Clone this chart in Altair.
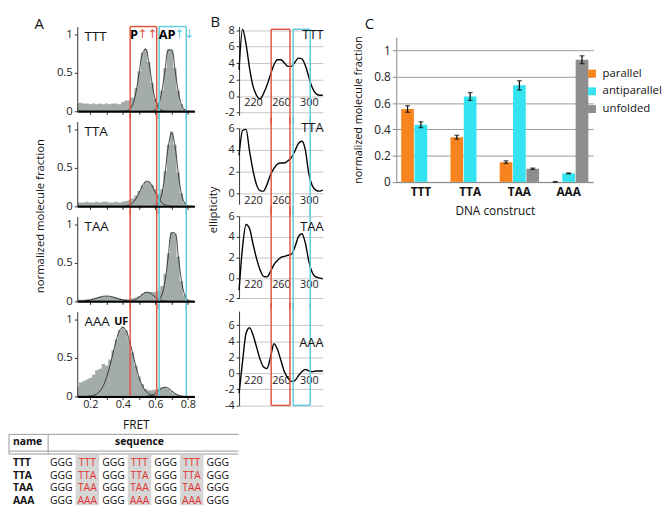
import altair as alt
import pandas as pd

FONT = "Open Sans"

# ------------------------------------------------------------------ data
CONSTRUCTS = ["TTT", "TTA", "TAA", "AAA"]

# Panel A : smFRET histograms (normalized molecule fraction per FRET bin)
FRET_BINS = [0.12, 0.14, 0.16, 0.18, 0.20, 0.22, 0.24, 0.26, 0.28, 0.30,
             0.32, 0.34, 0.36, 0.38, 0.40, 0.42, 0.44, 0.46, 0.48, 0.50,
             0.52, 0.54, 0.56, 0.58, 0.60, 0.62, 0.64, 0.66, 0.68, 0.70,
             0.72, 0.74, 0.76, 0.78, 0.80, 0.82, 0.84]

HIST_TTT = [0.10, 0.11, 0.10, 0.10, 0.09, 0.10, 0.09, 0.10, 0.09, 0.10,
            0.09, 0.10, 0.10, 0.09, 0.12, 0.14, 0.14, 0.18, 0.30, 0.52,
            0.76, 0.81, 0.64, 0.37, 0.16, 0.12, 0.27, 0.56, 0.81, 0.80,
            0.56, 0.27, 0.09, 0.03, 0.01, 0.00, 0.00]
FIT_TTT_P = [0, 0, 0, 0, 0, 0, 0, 0, 0, 0,
             0, 0, 0, 0, 0, 0.004, 0.021, 0.083, 0.239, 0.497,
             0.748, 0.812, 0.635, 0.359, 0.146, 0.043, 0.009, 0.001, 0, 0,
             0, 0, 0, 0, 0, 0, 0]
FIT_TTT_AP = [0, 0, 0, 0, 0, 0, 0, 0, 0, 0,
              0, 0, 0, 0, 0, 0, 0, 0, 0, 0,
              0, 0, 0, 0.003, 0.020, 0.087, 0.263, 0.549, 0.793, 0.793,
              0.549, 0.263, 0.087, 0.020, 0.003, 0, 0]

HIST_TTA = [0.05, 0.05, 0.05, 0.06, 0.05, 0.05, 0.06, 0.05, 0.06, 0.06,
            0.05, 0.05, 0.06, 0.05, 0.06, 0.07, 0.08, 0.10, 0.14, 0.20,
            0.27, 0.32, 0.32, 0.28, 0.22, 0.16, 0.22, 0.46, 0.80, 0.97,
            0.80, 0.44, 0.17, 0.05, 0.01, 0.00, 0.00]
FIT_TTA_P = [0, 0, 0, 0, 0, 0, 0, 0, 0, 0,
             0, 0, 0, 0, 0.001, 0.005, 0.017, 0.045, 0.098, 0.178,
             0.264, 0.322, 0.322, 0.264, 0.178, 0.098, 0.045, 0.017, 0.005, 0.001,
             0, 0, 0, 0, 0, 0, 0]
FIT_TTA_AP = [0, 0, 0, 0, 0, 0, 0, 0, 0, 0,
              0, 0, 0, 0, 0, 0, 0, 0, 0, 0,
              0, 0, 0, 0, 0.007, 0.042, 0.166, 0.440, 0.790, 0.960,
              0.790, 0.440, 0.166, 0.042, 0.007, 0, 0]

HIST_TAA = [0.02, 0.02, 0.02, 0.03, 0.03, 0.04, 0.05, 0.06, 0.06, 0.07,
            0.06, 0.06, 0.05, 0.04, 0.03, 0.03, 0.03, 0.04, 0.05, 0.07,
            0.10, 0.12, 0.12, 0.12, 0.12, 0.14, 0.20, 0.36, 0.62, 0.90,
            0.88, 0.58, 0.26, 0.08, 0.02, 0.00, 0.00]
FIT_TAA_UF = [0.001, 0.002, 0.005, 0.009, 0.017, 0.029, 0.042, 0.056, 0.066, 0.070,
              0.066, 0.056, 0.042, 0.029, 0.017, 0.009, 0.005, 0.002, 0.001, 0,
              0, 0, 0, 0, 0, 0, 0, 0, 0, 0,
              0, 0, 0, 0, 0, 0, 0]
FIT_TAA_P = [0, 0, 0, 0, 0, 0, 0, 0, 0, 0,
             0, 0, 0, 0, 0, 0, 0.003, 0.010, 0.026, 0.055,
             0.091, 0.116, 0.116, 0.091, 0.055, 0.026, 0.010, 0.003, 0, 0,
             0, 0, 0, 0, 0, 0, 0]
FIT_TAA_AP = [0, 0, 0, 0, 0, 0, 0, 0, 0, 0,
              0, 0, 0, 0, 0, 0, 0, 0, 0, 0,
              0, 0, 0, 0, 0.003, 0.018, 0.085, 0.274, 0.599, 0.886,
              0.886, 0.599, 0.274, 0.085, 0.018, 0.003, 0]

HIST_AAA = [0.12, 0.18, 0.20, 0.22, 0.24, 0.28, 0.34, 0.36, 0.42, 0.40,
            0.48, 0.60, 0.74, 0.86, 0.90, 0.86, 0.74, 0.57, 0.40, 0.26,
            0.16, 0.10, 0.08, 0.08, 0.09, 0.10, 0.12, 0.12, 0.10, 0.07,
            0.04, 0.02, 0.01, 0.00, 0.00, 0.00, 0.00]
FIT_AAA_UF = [0, 0, 0.001, 0.002, 0.005, 0.013, 0.032, 0.070, 0.138, 0.245,
              0.392, 0.564, 0.731, 0.854, 0.900, 0.854, 0.731, 0.564, 0.392, 0.245,
              0.138, 0.070, 0.032, 0.013, 0.005, 0.002, 0.001, 0, 0, 0,
              0, 0, 0, 0, 0, 0, 0]
FIT_AAA_AP = [0, 0, 0, 0, 0, 0, 0, 0, 0, 0,
              0, 0, 0, 0, 0, 0, 0, 0, 0, 0,
              0, 0.001, 0.005, 0.016, 0.039, 0.073, 0.106, 0.120, 0.106, 0.073,
              0.039, 0.016, 0.005, 0.001, 0, 0, 0]

HISTS = [HIST_TTT, HIST_TTA, HIST_TAA, HIST_AAA]
FITS = [
    [("P", FIT_TTT_P), ("AP", FIT_TTT_AP)],
    [("P", FIT_TTA_P), ("AP", FIT_TTA_AP)],
    [("UF", FIT_TAA_UF), ("P", FIT_TAA_P), ("AP", FIT_TAA_AP)],
    [("UF", FIT_AAA_UF), ("AP", FIT_AAA_AP)],
]
BOX_P_FRET = [0.445, 0.608]
BOX_AP_FRET = [0.623, 0.790]

# Panel B : CD spectra (ellipticity vs wavelength, nm)
WAVELENGTH = [200, 205, 210, 215, 220, 225, 230, 235, 240, 245, 250, 255, 260,
              265, 270, 275, 280, 285, 290, 295, 300, 305, 310, 315, 320]
CD_TTT = [3.2, 8.1, 6.3, 3.4, 1.2, 0.1, -0.35, 0.3, 1.3, 2.6, 3.8, 4.4, 4.4,
          4.0, 3.6, 3.6, 4.1, 4.6, 4.5, 3.7, 2.3, 1.0, 0.3, 0.1, 0.1]
CD_TTA = [3.5, 5.8, 5.9, 3.9, 2.1, 0.8, 0.25, 0.2, 0.8, 1.7, 2.3, 2.7, 2.8,
          2.8, 3.0, 3.3, 3.9, 4.6, 4.8, 4.0, 1.8, 0.7, 0.3, 0.2, 0.3]
CD_TAA = [-1.2, 3.0, 5.2, 4.8, 3.3, 1.9, 0.8, 0.15, 0.1, 0.6, 1.3, 1.7, 2.0,
          2.1, 2.2, 2.3, 3.0, 4.0, 4.3, 3.4, 1.6, 0.5, 0.1, 0.0, -0.1]
CD_AAA = [-2.5, 1.5, 5.0, 5.7, 4.8, 3.3, 1.8, 0.8, 0.6, 2.0, 3.7, 3.0, 1.6,
          0.2, -0.6, -1.0, -0.9, -0.3, 0.2, 0.5, 0.3, 0.2, 0.3, 0.3, 0.3]
CDS = [CD_TTT, CD_TTA, CD_TAA, CD_AAA]
BOX_P_NM = [246, 273]
BOX_AP_NM = [277.5, 302]

# Panel C : normalized fractions
FOLD_TYPES = ["parallel", "antiparallel", "unfolded"]
PARALLEL = [0.555, 0.34, 0.15, 0.0]
PARALLEL_ERR = [0.025, 0.015, 0.01, 0.002]
ANTIPARALLEL = [0.435, 0.65, 0.735, 0.065]
ANTIPARALLEL_ERR = [0.022, 0.03, 0.035, 0.003]
UNFOLDED = [0.0, 0.0, 0.10, 0.93]
UNFOLDED_ERR = [0.0, 0.0, 0.005, 0.03]

# Sequence table
TABLE_NAMES = ["TTT", "TTA", "TAA", "AAA"]
TABLE_SEQS = ["GGG TTT GGG TTT GGG TTT GGG",
              "GGG TTA GGG TTA GGG TTA GGG",
              "GGG TAA GGG TAA GGG TAA GGG",
              "GGG AAA GGG AAA GGG AAA GGG"]

# ------------------------------------------------------------------ styles
HIST_COLOR = "#a3aca8"
RED = "#e2553f"
CYAN = "#62c8dc"
BAR_COLORS = ["#f7841e", "#33e4f0", "#8e8e8e"]
SEQ_RED = "#e2312f"


def box_vertical(p, ap, lo, hi):
    return pd.DataFrame({"x": [p[0], p[1], ap[0], ap[1]],
                         "y": [lo] * 4, "y2": [hi] * 4,
                         "c": [RED, RED, CYAN, CYAN]})


def box_horizontal(p, ap, y):
    return pd.DataFrame({"x": [p[0], ap[0]], "x2": [p[1], ap[1]],
                         "y": [y, y], "c": [RED, CYAN]})


# ------------------------------------------------------------------ panel A
A_W, A_H = 119, 86
A_YTOP = 1.1
A_EXT = 0.1


def a_panel(i):
    first, last = i == 0, i == 3
    xs = alt.Scale(domain=[0.12, 0.84], nice=False, zero=False)
    ys = alt.Scale(domain=[0, A_YTOP], nice=False, zero=False)
    xaxis = alt.Axis(values=[0.2, 0.3, 0.4, 0.5, 0.6, 0.7, 0.8], labels=last,
                     labelExpr="round(datum.value * 10) % 2 == 0 ? format(datum.value, '.1f') : ''",
                     title="FRET" if last else None, domainWidth=2, domainColor="black",
                     tickColor="#222", tickSize=3, grid=False, labelFontSize=11,
                     titleFontSize=12, titlePadding=11, labelPadding=-1, zindex=1)
    yaxis = alt.Axis(values=[0, 0.5, 1], format="~g", title=None, grid=False,
                     tickSize=3, labelFontSize=11.5, labelPadding=2,
                     domainColor="#333", tickColor="#333", zindex=1)

    def X(f):
        return alt.X(f, scale=xs, axis=xaxis)

    def Y(f):
        return alt.Y(f, scale=ys, axis=yaxis)

    hist = alt.Chart(pd.DataFrame({"fret": FRET_BINS, "frac": HISTS[i]})).mark_area(
        interpolate="step", color=HIST_COLOR).encode(x=X("fret:Q"), y=Y("frac:Q"))
    rows = []
    for comp, vals in FITS[i]:
        for f, v in zip(FRET_BINS, vals):
            rows.append({"fret": f, "frac": v, "comp": comp})
    fit = alt.Chart(pd.DataFrame(rows)).mark_line(
        interpolate="catmull-rom", color="#1a1a1a", strokeWidth=0.8, clip=True).encode(
        x=X("fret:Q"), y=Y("frac:Q"), detail="comp:N")
    lo = 0 if last else -A_EXT
    hi = A_YTOP if first else A_YTOP + A_EXT
    vr = alt.Chart(box_vertical(BOX_P_FRET, BOX_AP_FRET, lo, hi)).mark_rule(
        strokeWidth=1.5, clip=False).encode(
        x=X("x:Q"), y=Y("y:Q"), y2="y2:Q", color=alt.Color("c:N", scale=None))
    layers = [hist, fit, vr]
    if first:
        hr = alt.Chart(box_horizontal(BOX_P_FRET, BOX_AP_FRET, A_YTOP)).mark_rule(
            strokeWidth=1.5).encode(
            x=X("x:Q"), x2="x2:Q", y=Y("y:Q"), color=alt.Color("c:N", scale=None))
        layers.append(hr)
        lab = alt.Chart(pd.DataFrame({"fret": [0.468, 0.672], "frac": [0.99, 0.99],
                                      "t": ["P", "AP"]})).mark_text(
            fontSize=13, fontWeight="bold", color="black").encode(
            x=X("fret:Q"), y=Y("frac:Q"), text="t:N")
        arr = alt.Chart(pd.DataFrame({"fret": [0.553, 0.779], "frac": [1.0, 1.0],
                                      "t": ["↑↑", "↑↓"], "c": [RED, CYAN]})).mark_text(
            fontSize=12, font="DejaVu Sans").encode(
            x=X("fret:Q"), y=Y("frac:Q"), text="t:N", color=alt.Color("c:N", scale=None))
        layers += [lab, arr]
    if last:
        uf = alt.Chart(pd.DataFrame({"fret": [0.39], "frac": [0.965], "t": ["UF"]})).mark_text(
            fontSize=11, fontWeight="bold", color="black").encode(
            x=X("fret:Q"), y=Y("frac:Q"), text="t:N")
        layers.append(uf)
    name = alt.Chart(pd.DataFrame({"fret": [0.165], "frac": [0.97], "t": [CONSTRUCTS[i]]})).mark_text(
        fontSize=13.5, align="left", color="#111").encode(
        x=X("fret:Q"), y=Y("frac:Q"), text="t:N")
    layers.append(name)
    ch = alt.layer(*layers).properties(width=A_W, height=A_H)
    if first:
        ch = ch.properties(title=alt.TitleParams("A", anchor="start", frame="group", dx=-43.5,
                                                 fontSize=15, offset=-6.3))
    return ch


# ------------------------------------------------------------------ panel B
B_W = 85
B_DOMAINS = [[-2.36, 8.43], [-1, 6], [-2, 6], [-4, 7.77]]
B_HEIGHTS = [90.3, 77, 83.4, 95.7]
B_BOX_TOP = 8.1
B_TICKS = [[-2, 0, 2, 4, 6, 8], [0, 2, 4, 6], [-2, 0, 2, 4, 6], [-4, -2, 0, 2, 4, 6]]
B_LABEL_Y = [7.4, 6.0, 4.9, 3.8]
B_EXT = 1.0


def b_panel(i):
    first, last = i == 0, i == 3
    dom = B_DOMAINS[i]
    h = B_HEIGHTS[i]
    zero_off = -h * (0 - dom[0]) / (dom[1] - dom[0])
    xs = alt.Scale(domain=[200, 320], nice=False, zero=False)
    ys = alt.Scale(domain=dom, nice=False, zero=False)
    xaxis = alt.Axis(values=[220, 260, 300], offset=zero_off, domain=False, ticks=False,
                     grid=False, labelFontSize=11, labelPadding=1, title=None)
    yaxis = alt.Axis(values=B_TICKS[i], grid=True, gridColor="#c6c6c6", domainColor="#333",
                     tickColor="#333", tickSize=3, labelFontSize=11, labelPadding=2, title=None,
                     labelExpr="replace(datum.label, '\u2212', '-')")

    def X(f):
        return alt.X(f, scale=xs, axis=xaxis)

    def Y(f):
        return alt.Y(f, scale=ys, axis=yaxis)

    line = alt.Chart(pd.DataFrame({"wl": WAVELENGTH, "cd": CDS[i]})).mark_line(
        color="black", strokeWidth=1.4, interpolate="monotone").encode(
        x=X("wl:Q"), y=Y("cd:Q"))
    lo = dom[0] if last else dom[0] - B_EXT
    hi = B_BOX_TOP if first else dom[1] + B_EXT
    vr = alt.Chart(box_vertical(BOX_P_NM, BOX_AP_NM, lo, hi)).mark_rule(
        strokeWidth=1.5, clip=False).encode(
        x=X("x:Q"), y=Y("y:Q"), y2="y2:Q", color=alt.Color("c:N", scale=None))
    layers = [line, vr]
    if first or last:
        hr = alt.Chart(box_horizontal(BOX_P_NM, BOX_AP_NM, B_BOX_TOP if first else dom[0])).mark_rule(
            strokeWidth=1.5).encode(
            x=X("x:Q"), x2="x2:Q", y=Y("y:Q"), color=alt.Color("c:N", scale=None))
        layers.append(hr)
    name = alt.Chart(pd.DataFrame({"wl": [321], "cd": [B_LABEL_Y[i]], "t": [CONSTRUCTS[i]]})).mark_text(
        fontSize=13, align="right", color="#111").encode(
        x=X("wl:Q"), y=Y("cd:Q"), text="t:N")
    layers.append(name)
    ch = alt.layer(*layers).properties(width=B_W, height=h)
    if first:
        ch = ch.properties(title=alt.TitleParams("B", anchor="start", frame="group", dx=-29,
                                                 fontSize=15, offset=-6.2))
    return ch


# ------------------------------------------------------------------ panel C
c_rows = []
for k, c in enumerate(CONSTRUCTS):
    for t, vals, errs in [("parallel", PARALLEL, PARALLEL_ERR),
                          ("antiparallel", ANTIPARALLEL, ANTIPARALLEL_ERR),
                          ("unfolded", UNFOLDED, UNFOLDED_ERR)]:
        c_rows.append({"construct": c, "type": t, "value": vals[k], "err": errs[k]})
c_df = pd.DataFrame(c_rows)

c_xaxis = alt.Axis(title="DNA construct", labelFontWeight="bold", labelFontSize=12,
                   labelAngle=0, ticks=False, domainColor="#888", labelPadding=5,
                   titleFontSize=12, titlePadding=8, labelColor="#111")
c_yaxis = alt.Axis(values=[0, 0.2, 0.4, 0.6, 0.8, 1], format="~g",
                   title="normalized molecule fraction", titleFontSize=11,
                   titlePadding=10, grid=True, gridColor="#9a9a9a", domainColor="#888",
                   tickColor="#888", tickSize=4, labelFontSize=12, labelPadding=2,
                   labelOverlap=False)
cx = alt.X("construct:N", sort=CONSTRUCTS, scale=alt.Scale(paddingInner=0.2, paddingOuter=0.1),
           axis=c_xaxis)
cxo = alt.XOffset("type:N", sort=FOLD_TYPES, scale=alt.Scale(paddingInner=0.05))
cys = alt.Scale(domain=[0, 1.1], nice=False)
bars = alt.Chart(c_df).mark_bar().encode(
    x=cx, xOffset=cxo,
    y=alt.Y("value:Q", scale=cys, axis=c_yaxis),
    color=alt.Color("type:N", sort=FOLD_TYPES,
                    scale=alt.Scale(domain=FOLD_TYPES, range=BAR_COLORS),
                    legend=alt.Legend(title=None, orient="none", legendX=193, legendY=31,
                                      symbolType="square", symbolSize=64, labelFontSize=11.5,
                                      rowPadding=5, padding=0, symbolStrokeWidth=0,
                                      labelOffset=5)))
err_base = alt.Chart(c_df).transform_filter("datum.err > 0").transform_calculate(
    lo="datum.value - datum.err", hi="datum.value + datum.err")
err_rule = err_base.mark_rule(color="#111", strokeWidth=1.3).encode(
    x=cx, xOffset=cxo, y=alt.Y("lo:Q", scale=cys, axis=c_yaxis), y2="hi:Q")
cap_lo = err_base.mark_tick(color="#111", size=5, thickness=1.3).encode(
    x=cx, xOffset=cxo, y=alt.Y("lo:Q", scale=cys, axis=c_yaxis))
cap_hi = err_base.mark_tick(color="#111", size=5, thickness=1.3).encode(
    x=cx, xOffset=cxo, y=alt.Y("hi:Q", scale=cys, axis=c_yaxis))
panel_c = alt.layer(bars, err_rule, cap_lo, cap_hi).properties(
    width=200, height=146.7,
    title=alt.TitleParams("C", anchor="start", frame="group", dx=-32, fontSize=15, offset=4))

# ------------------------------------------------------------------ table
tx = alt.Scale(domain=[-1.0, 7.79], nice=False, zero=False)
ty = alt.Scale(domain=[-1.23, 4.31], nice=False, zero=False, reverse=True)
tok_rows = []
for r, (nm, seq) in enumerate(zip(TABLE_NAMES, TABLE_SEQS)):
    for j, tok in enumerate(seq.split()):
        tok_rows.append({"col": j + 1, "row": r + 1, "t": tok,
                         "c": SEQ_RED if j % 2 == 1 else "#111"})
tok_df = pd.DataFrame(tok_rows)
loop_cols = [2, 4, 6]
hl = alt.Chart(pd.DataFrame({"x": [c - 0.45 for c in loop_cols],
                             "x2": [c + 0.45 for c in loop_cols],
                             "y": [0.38] * 3, "y2": [4.31] * 3})).mark_rect(color="#d6d6d6").encode(
    x=alt.X("x:Q", scale=tx, axis=None), x2="x2:Q",
    y=alt.Y("y:Q", scale=ty, axis=None), y2="y2:Q")
toks = alt.Chart(tok_df).mark_text(fontSize=10.5).encode(
    x=alt.X("col:Q", scale=tx, axis=None), y=alt.Y("row:Q", scale=ty, axis=None),
    text="t:N", color=alt.Color("c:N", scale=None))
names = alt.Chart(pd.DataFrame({"col": [-0.85] * 4, "row": [1, 2, 3, 4], "t": TABLE_NAMES})).mark_text(
    fontSize=10.5, fontWeight="bold", align="left", color="#111").encode(
    x=alt.X("col:Q", scale=tx, axis=None), y=alt.Y("row:Q", scale=ty, axis=None), text="t:N")
hdr_name = alt.Chart(pd.DataFrame({"col": [-0.85], "row": [-0.62], "t": ["name"]})).mark_text(
    fontSize=10.5, fontWeight="bold", color="#111", align="left").encode(
    x=alt.X("col:Q", scale=tx, axis=None), y=alt.Y("row:Q", scale=ty, axis=None), text="t:N")
hdr_seq = alt.Chart(pd.DataFrame({"col": [4.0], "row": [-0.62], "t": ["sequence"]})).mark_text(
    fontSize=10.5, fontWeight="bold", color="#111", align="center").encode(
    x=alt.X("col:Q", scale=tx, axis=None), y=alt.Y("row:Q", scale=ty, axis=None), text="t:N")
hlines = alt.Chart(pd.DataFrame({"x": [-1.0, -1.0, -1.0], "x2": [7.79, 7.79, 7.79],
                                 "y": [-1.23, 0.08, 0.31]})).mark_rule(
    color="#9a9a9a", strokeWidth=1).encode(
    x=alt.X("x:Q", scale=tx, axis=None), x2="x2:Q", y=alt.Y("y:Q", scale=ty, axis=None))
vlines = alt.Chart(pd.DataFrame({"x": [-1.0, 0.5], "y": [-1.23, -1.23], "y2": [0.31, 0.31]})).mark_rule(
    color="#9a9a9a", strokeWidth=1).encode(
    x=alt.X("x:Q", scale=tx, axis=None), y=alt.Y("y:Q", scale=ty, axis=None), y2="y2:Q")
table = alt.layer(hl, hlines, vlines, hdr_name, hdr_seq, names, toks).properties(width=233, height=72)


# ------------------------------------------------------------------ layout
def spacer(w, h=1):
    return alt.Chart(pd.DataFrame({"v": [0]})).mark_rect(opacity=0).encode(
        x=alt.value(0), x2=alt.value(w), y=alt.value(0), y2=alt.value(h)).properties(width=w, height=h)


col_a = alt.vconcat(*[a_panel(i) for i in range(4)], spacing=10.5, bounds="flush",
                    title=alt.TitleParams("normalized molecule fraction", orient="left",
                                          anchor="middle", fontSize=11.5, offset=-12.5, dx=8))
col_b = alt.vconcat(*[b_panel(i) for i in range(4)], spacing=12.3, bounds="flush",
                    title=alt.TitleParams("ellipticity", orient="left", anchor="middle",
                                          fontSize=11.5, offset=-9, dx=3))
col_c = (alt.vconcat(spacer(1, 10.3), panel_c, spacing=0, bounds="flush")
         .resolve_scale(color="independent").resolve_legend(color="independent"))
top = (alt.hconcat(spacer(13.7), col_a, col_b, spacer(4.4), col_c, spacing=11.3)
       .resolve_scale(color="independent").resolve_legend(color="independent"))

chart = (alt.vconcat(top, table, spacing=2)
         .resolve_scale(color="independent").resolve_legend(color="independent")
         .properties(padding={"left": 0, "top": 3, "right": 0, "bottom": 0})
         .configure(font=FONT)
         .configure_view(strokeWidth=0)
         .configure_axis(labelColor="#222", titleColor="#111", labelFont=FONT, titleFont=FONT,
                         titleFontWeight="normal")
         .configure_title(font=FONT, fontWeight="normal", color="#111")
         .configure_legend(labelFont=FONT, labelColor="#111")
         .configure_text(font=FONT))

chart.save("out.html", embed_options={"renderer": "svg", "actions": False})
